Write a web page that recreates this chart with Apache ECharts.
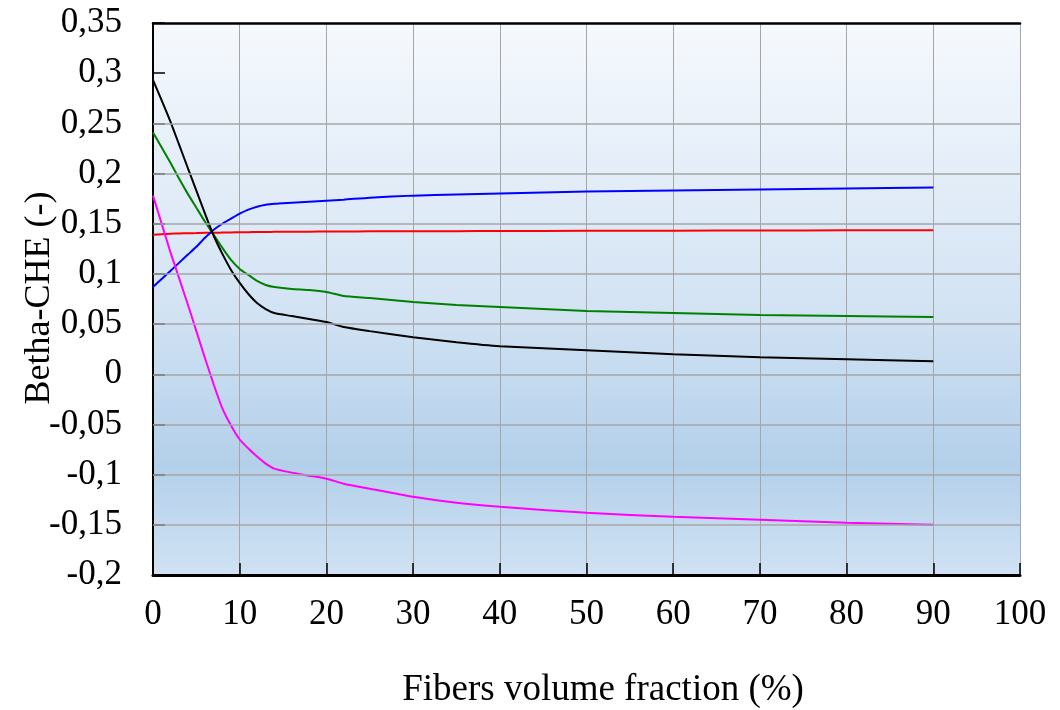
<!DOCTYPE html>
<html>
<head>
<meta charset="utf-8">
<script src="https://cdn.jsdelivr.net/npm/echarts@6/dist/echarts.min.js"></script>
<style>html,body{margin:0;padding:0;background:#fff;}#c{width:1060px;height:710px;}</style>
</head>
<body>
<div id="c"></div>
<script>
var xs = [0,1,2,3,4,5,6,7,8,9,10,11,12,13,14,16,18,20,22,25,30,35,40,50,60,70,80,90];
var blackVals = [0.293,0.273,0.252,0.229,0.206,0.183,0.160,0.138,0.120,0.104,0.091,0.080,0.071,0.065,0.061,0.058,0.055,0.052,0.047,0.043,0.037,0.032,0.028,0.024,0.020,0.017,0.015,0.013];
var greenVals = [0.241,0.226,0.211,0.195,0.180,0.166,0.152,0.139,0.126,0.114,0.105,0.099,0.093,0.089,0.087,0.085,0.084,0.082,0.078,0.076,0.072,0.069,0.067,0.063,0.061,0.059,0.058,0.057];
var blueVals = [0.087,0.095,0.103,0.111,0.119,0.127,0.136,0.144,0.150,0.155,0.160,0.164,0.167,0.169,0.170,0.171,0.172,0.173,0.174,0.176,0.178,0.179,0.180,0.182,0.183,0.184,0.185,0.186];
var redVals = [0.139,0.1395,0.140,0.1403,0.1405,0.1407,0.141,0.141,0.1412,0.1413,0.1415,0.1416,0.1417,0.1418,0.1419,0.142,0.1421,0.1422,0.1423,0.1424,0.1425,0.1426,0.1427,0.1429,0.1431,0.1433,0.1434,0.1436];
var magentaVals = [0.178,0.150,0.122,0.096,0.070,0.043,0.016,-0.010,-0.034,-0.051,-0.065,-0.074,-0.082,-0.089,-0.094,-0.098,-0.101,-0.104,-0.109,-0.114,-0.122,-0.128,-0.132,-0.138,-0.142,-0.145,-0.148,-0.150];
// horizontal gridlines drawn in the reference (no line at 0.3)
var yGridValues = [-0.15,-0.1,-0.05,0,0.05,0.1,0.15,0.2,0.25];
var xTitle = 'Fibers volume fraction (%)';
var yTitle = 'Betha-CHE (-)';

function pairs(vals){ return xs.map(function(x,i){ return [x, vals[i]]; }); }
function fmt(v){ var r = Math.round(v*100)/100; return String(r).replace('.', ','); }

var font = '"Liberation Serif", "Times New Roman", serif';
var chart = echarts.init(document.getElementById('c'));

function line(name, color, vals){
  return { name: name, type: 'line', data: pairs(vals), showSymbol: false, smooth: 0.2, z: 3,
    lineStyle: { color: color, width: 2 }, itemStyle: { color: color }, animation: false };
}

var series = [
  { name: 'grid', type: 'line', data: [], z: 1, silent: true,
    markLine: { silent: true, symbol: 'none', label: { show: false }, animation: false,
      lineStyle: { color: '#a6a6a6', width: 1.5, type: 'solid' },
      data: yGridValues.map(function(v){ return { yAxis: v }; }) } },
  line('red', '#ff0000', redVals),
  line('blue', '#0000ff', blueVals),
  line('green', '#008000', greenVals),
  line('black', '#000000', blackVals),
  line('magenta', '#ff00ff', magentaVals)
];

chart.setOption({
  animation: false,
  grid: { left: 153, right: 40, top: 23, bottom: 135, show: true, borderWidth: 0,
    backgroundColor: { type: 'linear', x: 0, y: 0, x2: 0, y2: 1, colorStops: [
      { offset: 0, color: '#f6f9fd' }, { offset: 0.5, color: '#d4e4f4' },
      { offset: 0.8, color: '#b3d0ea' }, { offset: 1, color: '#d0e2f3' } ] } },
  xAxis: [{
    type: 'value', min: 0, max: 100, interval: 10,
    axisLine: { show: true, onZero: false, lineStyle: { color: '#000', width: 3 } },
    axisTick: { show: true, inside: true, length: 12, lineStyle: { color: '#000', width: 1.5 } },
    axisLabel: { margin: 22, color: '#000', fontFamily: font, fontSize: 35 },
    splitLine: { show: true, lineStyle: { color: '#a6a6a6', width: 1 } }
  }, {
    type: 'value', position: 'top', min: 0, max: 100, interval: 10,
    axisLine: { show: true, onZero: false, lineStyle: { color: '#000', width: 2.5 } },
    axisTick: { show: false }, axisLabel: { show: false }, splitLine: { show: false }
  }],
  yAxis: {
    type: 'value', min: -0.2, max: 0.35, interval: 0.05,
    axisLine: { show: true, onZero: false, lineStyle: { color: '#000', width: 2 } },
    axisTick: { show: true, inside: true, length: 12, lineStyle: { color: '#000', width: 1.5 } },
    axisLabel: { margin: 31, color: '#000', fontFamily: font, fontSize: 35, formatter: fmt },
    splitLine: { show: false }
  },
  graphic: [
    { type: 'text', x: 603, y: 690, style: { text: xTitle, font: '37px ' + font, fill: '#000', align: 'center', verticalAlign: 'middle' } },
    { type: 'text', x: 40, y: 298, rotation: Math.PI / 2, style: { text: yTitle, font: '36px ' + font, fill: '#000', align: 'center', verticalAlign: 'middle' } }
  ],
  series: series
});
</script>
</body>
</html>
